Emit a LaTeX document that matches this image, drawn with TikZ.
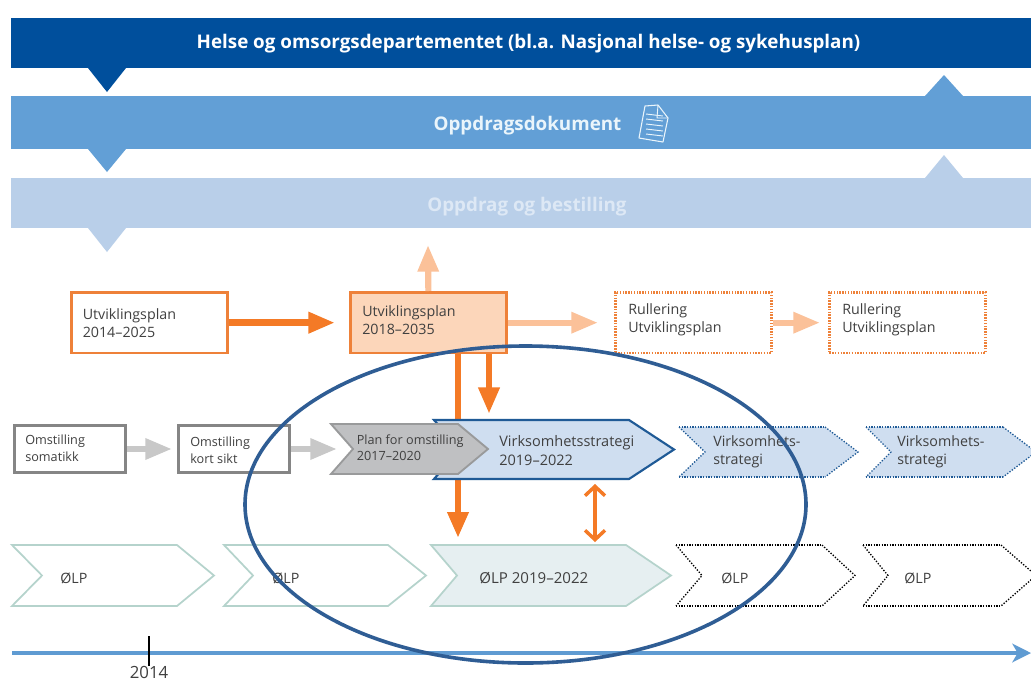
\documentclass[tikz,border=0pt]{standalone}
\usepackage{fontspec}
\setmainfont{Open Sans}
\usetikzlibrary{arrows.meta,calc}
\definecolor{bandA}{HTML}{004F9C}
\definecolor{bandB}{HTML}{629FD6}
\definecolor{bandC}{HTML}{B9CFE9}
\definecolor{txtC}{HTML}{DDE8F5}
\definecolor{txtB}{HTML}{EAF5FB}
\definecolor{ora}{HTML}{F47A26}
\definecolor{oraB}{HTML}{EE8139}
\definecolor{oraL}{HTML}{FBC199}
\definecolor{oraF}{HTML}{FCD6BA}
\definecolor{gryA}{HTML}{858585}
\definecolor{gryL}{HTML}{C8C8C8}
\definecolor{gryF}{HTML}{BFC0C2}
\definecolor{bluD}{HTML}{1F5A96}
\definecolor{bluF}{HTML}{CFDEF0}
\definecolor{grn}{HTML}{B5D3CC}
\definecolor{grnF}{HTML}{E6EFF1}
\definecolor{ink}{HTML}{404040}
\definecolor{ring}{HTML}{2F5D94}
\definecolor{axis}{HTML}{5F9BD2}
\tikzset{
  x=0.75pt,y=-0.75pt,
  lbl/.style={text=ink,font=\fontsize{10.7pt}{13.7pt}\selectfont,align=left,inner sep=0pt,anchor=west},
  smalllbl/.style={lbl,font=\fontsize{9.5pt}{12.4pt}\selectfont},
  bandlbl/.style={font=\fontsize{14.1pt}{16pt}\selectfont\bfseries,inner sep=0pt},
  box/.style={anchor=north west,minimum width=117pt,minimum height=45.5pt,line width=2pt},
  smallbox/.style={anchor=north west,minimum width=83.5pt,minimum height=35.5pt,line width=2pt,draw=gryA,fill=white},
  dotbox/.style={box,draw=oraB,dash pattern=on 1.1pt off 1pt},
  arrowBig/.style={line width=5.2pt,-{Triangle[length=20pt,width=15pt]}},
  arrowMid/.style={line width=4.6pt,-{Triangle[length=20pt,width=15pt]}},
  dotH/.style={line width=2pt,dash pattern=on 1.1pt off 0.9pt},
  dotS/.style={line width=1pt,dash pattern=on 1pt off 1.2pt},
}
% x left, notch, shoulder, tip, top, bottom
\newcommand{\chevshape}[6]{(#1,#5) -- (#3,#5) -- (#4,{(#5+#6)/2}) -- (#3,#6) -- (#1,#6) -- (#2,{(#5+#6)/2}) -- cycle}
\newcommand{\dotchev}[8]{%
  \fill[#7] \chevshape{#1}{#2}{#3}{#4}{#5}{#6};
  \draw[dotS,#8] (#1,#5) -- (#2,{(#5+#6)/2}) -- (#1,#6);
  \draw[dotS,#8] (#3,#5) -- (#4,{(#5+#6)/2}) -- (#3,#6);
  \draw[dotH,#8] (#1,#5) -- (#3,#5);
  \draw[dotH,#8] (#1,#6) -- (#3,#6);
}
\begin{document}
\begin{tikzpicture}
\useasboundingbox (0,0) rectangle (1031,682);
\fill[white] (0,0) rectangle (1031,682);
% bands
\fill[bandB] (925,96) -- (944,75) -- (963,96) -- cycle;
\fill[bandC] (925,178) -- (944,155) -- (963,178) -- cycle;
\fill[bandA] (11,18) rectangle (1031,68);
\fill[bandA] (88,68) -- (107,92) -- (126,68) -- cycle;
\fill[bandB] (11,96) rectangle (1031,149);
\fill[bandB] (88,149) -- (107,172) -- (126,149) -- cycle;
\fill[bandC] (11,178) rectangle (1031,228);
\fill[bandC] (88,228) -- (107,252) -- (126,228) -- cycle;
\node[bandlbl,text=white] (hod) at (528.5,44) {Helse og omsorgsdepartementet (bl.a. Nasjonal helse- og sykehusplan)};
\node[bandlbl,text=txtB] (dok) at (527.5,126) {Oppdragsdokument};
\node[bandlbl,text=txtC] (bes) at (527,207) {Oppdrag og bestilling};
% document icon
\draw[txtB,line width=0.8pt,line join=round] (645,106) -- (658,105) -- (668,118) -- (663,142) -- (639,138) -- cycle;
\draw[txtB,line width=0.7pt] (658,105) -- (657,118) -- (668,118);
\foreach \a/\b in {114/116,119/121,124/126,129/131,134/136}{
  \draw[txtB,line width=0.7pt] (646,\a) -- (663,\b);
}
% axis
\coordinate (axisStart) at (12,653);
\coordinate (axisEnd) at (1031,653);
\draw[axis,line width=3.4pt,-{Stealth[length=14pt,width=14pt,inset=4pt]}] (axisStart) -- (axisEnd);
\coordinate (tickTop) at (148.5,636);
\coordinate (tickBot) at (148.5,666);
\draw[black,line width=1.5pt] (tickTop) -- (tickBot);
\node[lbl,anchor=center,font=\fontsize{12.6pt}{14pt}\selectfont] (y2014) at (149,672.5) {2014};
% row 1 boxes
\node[box,draw=oraB,fill=white] (u1) at (70,291) {};
\node[lbl] (u1t) at (82.5,323) {Utviklingsplan\\2014--2025};
\node[box,draw=oraB,fill=oraF] (u2) at (349,291) {};
\node[lbl] (u2t) at (362,320) {Utviklingsplan\\2018--2035};
\node[dotbox] (r1) at (614,291) {};
\node[lbl] (r1t) at (628,320) {Rullering\\Utviklingsplan};
\node[dotbox] (r2) at (828,291) {};
\node[lbl] (r2t) at (842,320) {Rullering\\Utviklingsplan};
% row 1 arrows
\coordinate (upEnd) at (428,245);
\coordinate (downA) at (458,538);
\coordinate (downB) at (489,414);
\draw[arrowBig,ora] (u1.east) -- ($(u2.west)+(-14,0)$);
\draw[arrowMid,oraL] (u2.east) -- ($(r1.west)+(-16,0)$);
\draw[arrowMid,oraL] (r1.east) -- ($(r2.west)+(-8,0)$);
\draw[arrowMid,oraL] (u2.north) -- (upEnd);
\draw[arrowBig,ora,-{Triangle[length=19.5pt,width=15pt]}] (u2.south -| downA) -- (downA);
\draw[arrowBig,ora,-{Triangle[length=20pt,width=15pt]}] (u2.south -| downB) -- (downB);
% row 2
\node[smallbox] (o1) at (13,424) {};
\node[smalllbl] (o1t) at (25,448.5) {Omstilling\\somatikk};
\node[smallbox] (o2) at (177,424) {};
\node[smalllbl] (o2t) at (190,450) {Omstilling\\kort sikt};
\coordinate (planIn) at (337,449);
\draw[arrowMid,gryL] (o1.east) -- ($(o2.west)+(-5,0)$);
\draw[arrowMid,gryL] (o2.east) -- (planIn);
\filldraw[fill=bluF,draw=bluD,line width=1.6pt,line join=miter] \chevshape{434}{460}{629}{674}{420}{479};
\filldraw[fill=gryF,draw=gryF!80!black,line width=1.4pt] \chevshape{331}{353}{458}{488}{424}{474};
\node[smalllbl] (plan) at (356.5,447.5) {Plan for omstilling\\2017--2020};
\node[lbl,font=\fontsize{10.9pt}{14.3pt}\selectfont] (vs) at (499,450.5) {Virksomhetsstrategi\\2019--2022};
\dotchev{679}{705}{825}{858}{427}{477}{bluF}{bluD}
\node[lbl] (v1) at (713,452) {Virksomhets-\\strategi};
\dotchev{866}{891}{1003}{1036}{427}{477}{bluF}{bluD}
\node[lbl] (v2) at (897,452) {Virksomhets-\\strategi};
% row 3
\filldraw[fill=white,draw=grn,line width=1.3pt] \chevshape{12}{42}{177}{214}{545}{606};
\node[lbl] (p1) at (60,578) {ØLP};
\filldraw[fill=white,draw=grn,line width=1.3pt] \chevshape{224}{253}{388}{426}{545}{606};
\node[lbl] (p2) at (272,578) {ØLP};
\filldraw[fill=grnF,draw=grn,line width=1.3pt] \chevshape{431}{457}{626}{671}{545}{606};
\node[lbl,font=\fontsize{11.3pt}{14pt}\selectfont] (p3) at (479,578) {ØLP 2019--2022};
\dotchev{676}{702}{822}{855}{545}{606}{white}{black}
\node[lbl] (p4) at (721,578) {ØLP};
\dotchev{863}{888}{1001}{1036}{545}{606}{white}{black}
\node[lbl] (p5) at (904,578) {ØLP};
% double arrow
\coordinate (dblTop) at (595,484);
\coordinate (dblBot) at (595,542);
\draw[ora,line width=2.6pt,{Straight Barb[length=7pt,width=15pt,line width=2.6pt]}-{Straight Barb[length=7pt,width=15pt,line width=2.6pt]}] (dblTop) -- (dblBot);
% ellipse
\draw[ring,line width=2.7pt] (525.5,504.5) ellipse [x radius=280.5,y radius=158.5];
\end{tikzpicture}
\end{document}
